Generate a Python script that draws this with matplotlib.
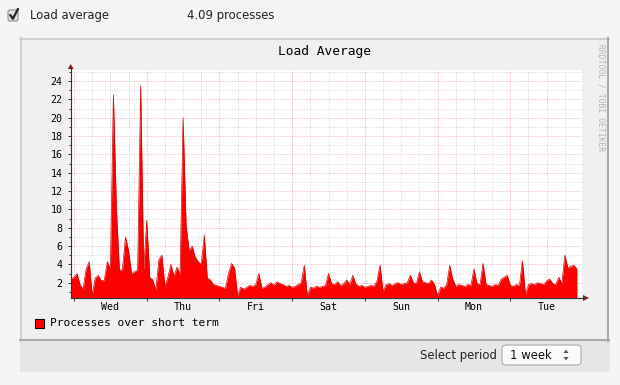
import matplotlib
matplotlib.use("Agg")
import matplotlib.pyplot as plt
from matplotlib.patches import Rectangle, FancyBboxPatch, Polygon
import numpy as np

# hourly load average, hour 0 = Wed 00:00 (first value is Tue 23:00)
wed = [2.4, 2.6, 3.0, 1.8, 1.3, 3.5, 4.3, 0.6, 2.5, 2.8, 2.2, 2.3, 4.3,
       3.5, 22.5, 10.0, 3.3, 3.5, 7.0, 5.5, 3.0, 3.2, 3.4, 23.5, 3.4]
thu = [8.8, 2.6, 2.3, 1.2, 4.5, 5.0, 1.6, 2.6, 4.0, 2.7, 3.7, 2.9,
       20.0, 8.2, 5.5, 6.0, 4.8, 4.3, 4.0, 7.2, 2.5, 2.3, 1.8, 1.7]
fri = [1.6, 1.5, 1.4, 3.0, 4.1, 3.6, 0.6, 1.5, 1.3, 1.5, 1.7, 1.6,
       1.8, 3.0, 1.4, 1.5, 1.8, 2.0, 1.7, 2.1, 1.9, 1.8, 1.6, 1.7]
sat = [1.5, 1.6, 1.8, 2.0, 3.9, 0.6, 1.5, 1.4, 1.6, 1.5, 1.6, 1.7,
       3.0, 1.9, 1.8, 2.1, 1.7, 1.9, 2.3, 1.8, 2.8, 1.9, 1.6, 1.7]
sun = [1.5, 1.6, 1.7, 1.6, 2.2, 3.9, 1.0, 1.8, 1.9, 1.7, 1.9, 2.0,
       1.8, 1.9, 2.0, 2.8, 2.0, 1.9, 3.2, 2.1, 2.0, 1.9, 2.3, 1.8]
mon = [0.6, 1.5, 1.4, 1.8, 3.9, 2.4, 1.6, 1.8, 1.7, 1.6, 1.8, 1.7,
       3.5, 1.9, 1.8, 4.1, 1.8, 1.7, 1.6, 1.8, 1.7, 2.4, 2.6, 2.8]
tue = [1.7, 1.6, 1.8, 1.7, 4.4, 0.7, 1.8, 1.9, 1.8, 2.0, 1.9, 1.8,
       2.2, 2.4, 1.9, 1.8, 2.6, 1.9, 5.0, 3.6, 3.8, 3.9, 3.5]

days = ["Wed", "Thu", "Fri", "Sat", "Sun", "Mon", "Tue"]
yticks = list(range(2, 25, 2))
title = "Load Average"
legend_label = "Processes over short term"
current = "4.09 processes"

load = np.array(wed + thu + fri + sat + sun + mon + tue)
hours = np.arange(len(load)) - 1

W, H = 620, 385
fig = plt.figure(figsize=(W / 100, H / 100), dpi=100, facecolor="#f5f5f5")

# background layer in pixel coordinates
bg = fig.add_axes([0, 0, 1, 1], zorder=0)
bg.set_xlim(0, W)
bg.set_ylim(H, 0)
bg.axis("off")

px = 0.72  # one pixel in points
bg.add_patch(Rectangle((20, 340), 590, 32, facecolor="#e6e6e6", edgecolor="none"))
bg.add_patch(Rectangle((20, 38), 589, 303, facecolor="#f0f0f0", edgecolor="none"))
bg.plot([20, 609], [39, 39], color="#cfcfcf", lw=2 * px)
bg.plot([21, 21], [38, 341], color="#cfcfcf", lw=2 * px)
bg.plot([608, 608], [38, 341], color="#a8a8a8", lw=2 * px)
bg.plot([20, 609], [340, 340], color="#a8a8a8", lw=2 * px)

ui_font = "DejaVu Sans"
mono = "DejaVu Sans Mono"

# checkbox + header texts
bg.add_patch(FancyBboxPatch((8, 10), 10, 11, boxstyle="round,pad=0,rounding_size=2",
                            facecolor="#e4e4e4", edgecolor="#8c8c8c", lw=0.8))
bg.plot([10.2, 12.8, 18], [15, 18.8, 9], color="#2a2a2a", lw=1.7,
        solid_capstyle="round", solid_joinstyle="round")
bg.text(29.5, 15.5, "Load average", family=ui_font, fontsize=8.4, color="#222222",
        ha="left", va="center")
bg.text(187, 15.5, current, family=ui_font, fontsize=8.4, color="#222222",
        ha="left", va="center")

# rrd title, legend, watermark
bg.text(324, 51, title, family=mono, fontsize=9.3, color="#000000", ha="center", va="center")
bg.add_patch(Rectangle((35, 319), 9, 9, facecolor="#ff0000", edgecolor="#000000", lw=0.8))
bg.text(50, 323.5, legend_label, family=mono, fontsize=8.1, color="#000000",
        ha="left", va="center")
bg.text(600.5, 97.5, "RRDTOOL / TOBI OETIKER", family=mono, fontsize=5.8,
        color="#b4b4b4", rotation=270, ha="center", va="center")

# period selector
bg.text(497, 355, "Select period", family=ui_font, fontsize=8.4, color="#222222",
        ha="right", va="center")
bg.add_patch(FancyBboxPatch((502, 345), 79, 20, boxstyle="round,pad=0,rounding_size=4",
                            facecolor="#fbfbfb", edgecolor="#aaaaaa", lw=0.8))
bg.text(510, 355.5, "1 week", family=ui_font, fontsize=8.4, color="#111111",
        ha="left", va="center")
bg.add_patch(Polygon([[563.5, 353], [568.5, 353], [566, 349.5]], closed=True,
                     facecolor="#555555", edgecolor="none"))
bg.add_patch(Polygon([[563.5, 357], [568.5, 357], [566, 360.5]], closed=True,
                     facecolor="#555555", edgecolor="none"))

# plot area
x0, x1, ytop, ybot = 70.7, 582, 70, 298
ax = fig.add_axes([x0 / W, (H - ybot) / H, (x1 - x0) / W, (ybot - ytop) / H], zorder=2)
ax.set_facecolor("#ffffff")
ax.set_xlim(-1.09, 167.66)
ax.set_ylim(0.33, 25.22)

minor_c = (0.56, 0.56, 0.56, 0.35)
major_c = (0.87, 0.32, 0.32, 0.40)
for h in range(6, 168, 6):
    if h % 24:
        ax.axvline(h, color=minor_c, lw=0.72, dashes=(1, 1.4), zorder=1)
for h in range(0, 168, 24):
    ax.axvline(h, color=major_c, lw=0.72, dashes=(1, 1.4), zorder=1)
for v in range(1, 26):
    c = major_c if v % 2 == 0 else minor_c
    ax.axhline(v, color=c, lw=0.72, dashes=(1, 1.4), zorder=1)

ax.fill_between(hours, 0, load, color="#ff0000", lw=0, zorder=2)
ax.plot(hours, load, color="#d80000", lw=0.5, zorder=3)

for s in ["top", "right"]:
    ax.spines[s].set_visible(False)
for s in ["left", "bottom"]:
    ax.spines[s].set_color("#333333")
    ax.spines[s].set_linewidth(0.8)
    ax.spines[s].set_zorder(4)

ax.set_yticks(yticks)
ax.set_yticklabels([str(v) for v in yticks], family=mono, fontsize=7.2)
ax.set_yticks(range(1, 26), minor=True)
ax.tick_params(axis="y", which="major", length=2.5, width=0.7, color="#333333", pad=3.3)
ax.tick_params(axis="y", which="minor", length=1.5, width=0.7, color="#333333")

ax.set_xticks([12 + 24 * i for i in range(len(days))])
ax.set_xticklabels(days, family=mono, fontsize=7.2)
ax.set_xticks(range(0, 168, 24), minor=True)
ax.tick_params(axis="x", which="major", length=0, pad=3.0)
ax.tick_params(axis="x", which="minor", length=2.2, width=0.7, color="#333333")

# axis arrows
fg = fig.add_axes([0, 0, 1, 1], zorder=5)
fg.set_xlim(0, W)
fg.set_ylim(H, 0)
fg.axis("off")
fg.patch.set_alpha(0)
fg.plot([x0, x0], [ytop, ytop - 2], color="#333333", lw=0.8)
fg.plot([x1, x1 + 2], [ybot, ybot], color="#333333", lw=0.8)
fg.add_patch(Polygon([[x0 - 3, ytop - 1], [x0 + 3, ytop - 1], [x0, ytop - 6]], closed=True,
                     facecolor="#7f1f1f", edgecolor="none"))
fg.add_patch(Polygon([[x1 + 1, ybot - 3], [x1 + 1, ybot + 3], [x1 + 7, ybot]], closed=True,
                     facecolor="#7f1f1f", edgecolor="none"))

fig.savefig("out.png", dpi=100, facecolor=fig.get_facecolor())
